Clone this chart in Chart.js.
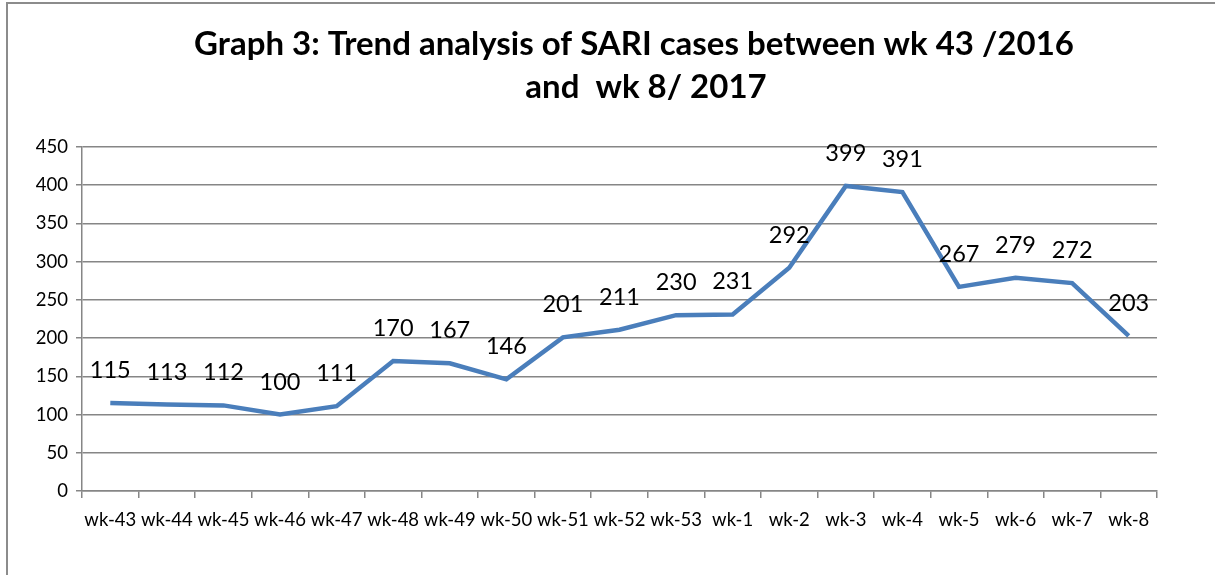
<!DOCTYPE html>
<html>
<head>
<meta charset="utf-8">
<script src="https://cdn.jsdelivr.net/npm/chart.js@4/dist/chart.umd.min.js"></script>
<style>
html,body{margin:0;padding:0;background:#fff;overflow:hidden;}
#wrap{position:relative;width:1215px;height:575px;}
canvas{display:block;}
</style>
</head>
<body>
<div id="wrap"><canvas id="c" width="1215" height="575"></canvas></div>
<script>
const titleLines = ['Graph 3: Trend analysis of SARI cases between wk 43 /2016', 'and  wk 8/ 2017'];
const weeks = ['wk-43','wk-44','wk-45','wk-46','wk-47','wk-48','wk-49','wk-50','wk-51','wk-52','wk-53','wk-1','wk-2','wk-3','wk-4','wk-5','wk-6','wk-7','wk-8'];
const cases = [115,113,112,100,111,170,167,146,201,211,230,231,292,399,391,267,279,272,203];
const yTicks = [0,50,100,150,200,250,300,350,400,450];

const FONT = 'Lato, "Open Sans", sans-serif';

const frame = {
  id: 'frame',
  beforeDraw(chart) {
    const ctx = chart.ctx;
    ctx.save();
    ctx.fillStyle = '#fff';
    ctx.fillRect(0, 0, chart.width, chart.height);
    ctx.strokeStyle = '#8c8c8c';
    ctx.lineWidth = 2;
    ctx.beginPath();
    ctx.moveTo(7, 575);
    ctx.lineTo(7, 3);
    ctx.lineTo(1215, 3);
    ctx.stroke();
    ctx.restore();
  }
};

const titleText = {
  id: 'titleText',
  afterDraw(chart) {
    const ctx = chart.ctx;
    ctx.save();
    ctx.font = 'bold 33px ' + FONT;
    ctx.fillStyle = '#000';
    ctx.textAlign = 'center';
    ctx.textBaseline = 'alphabetic';
    ctx.fillText(titleLines[0], 634, 55);
    ctx.fillText(titleLines[1], 646, 98);
    ctx.restore();
  }
};

const valueLabels = {
  id: 'valueLabels',
  afterDatasetsDraw(chart) {
    const ctx = chart.ctx;
    const meta = chart.getDatasetMeta(0);
    ctx.save();
    ctx.font = '23.5px ' + FONT;
    ctx.fillStyle = '#000';
    ctx.textAlign = 'center';
    ctx.textBaseline = 'alphabetic';
    meta.data.forEach((pt, i) => {
      ctx.fillText(String(cases[i]), pt.x, pt.y - 25);
    });
    ctx.restore();
  }
};

new Chart(document.getElementById('c'), {
  type: 'line',
  data: {
    labels: weeks,
    datasets: [{
      data: cases,
      borderColor: '#4a7ebb',
      borderWidth: 4.5,
      pointRadius: 0,
      tension: 0,
      fill: false
    }]
  },
  options: {
    responsive: false,
    animation: false,
    devicePixelRatio: 1,
    layout: { padding: { left: 20, right: 58, top: 147, bottom: 0 } },
    plugins: {
      legend: { display: false },
      tooltip: { enabled: false },
      title: { display: false }
    },
    scales: {
      x: {
        type: 'category',
        offset: true,
        grid: {
          offset: true,
          drawOnChartArea: false,
          drawTicks: true,
          tickLength: 7,
          color: '#868686',
          lineWidth: 1.5
        },
        border: { color: '#868686', width: 1.5 },
        ticks: {
          color: '#000',
          font: { family: FONT, size: 18.5 },
          maxRotation: 0,
          autoSkip: false,
          padding: 11
        },
        afterFit(s) { s.height = 84; }
      },
      y: {
        min: 0,
        max: 450,
        afterBuildTicks(s) { s.ticks = yTicks.map(v => ({ value: v })); },
        grid: {
          color: '#868686',
          lineWidth: 1.5,
          tickLength: 6
        },
        border: { color: '#868686', width: 1.5 },
        ticks: {
          color: '#000',
          font: { family: FONT, size: 18.5 },
          padding: 8
        },
        afterFit(s) { s.width = 62; }
      }
    }
  },
  plugins: [frame, titleText, valueLabels]
});
</script>
</body>
</html>
